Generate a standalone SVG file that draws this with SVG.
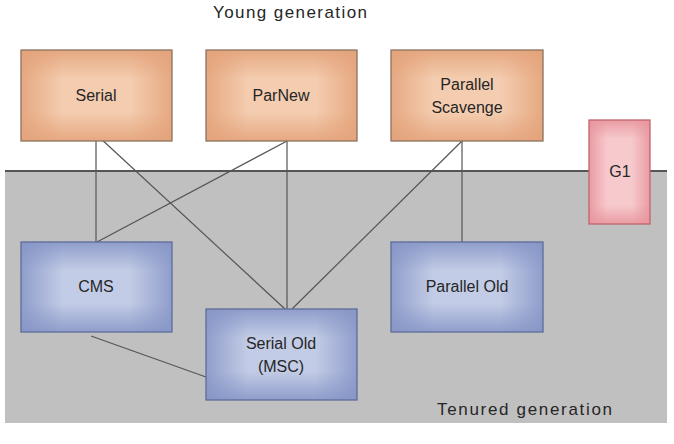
<svg xmlns="http://www.w3.org/2000/svg" width="674" height="444" viewBox="0 0 674 444">
<defs>
<linearGradient id="oh" x1="0" y1="0" x2="1" y2="0"><stop offset="0" stop-color="#e3a279" stop-opacity="0.85"/><stop offset="0.28" stop-color="#e3a279" stop-opacity="0"/><stop offset="0.72" stop-color="#e3a279" stop-opacity="0"/><stop offset="1" stop-color="#e3a279" stop-opacity="0.85"/></linearGradient>
<linearGradient id="ov" x1="0" y1="0" x2="0" y2="1"><stop offset="0" stop-color="#e3a279" stop-opacity="0.85"/><stop offset="0.32" stop-color="#e3a279" stop-opacity="0"/><stop offset="0.68" stop-color="#e3a279" stop-opacity="0"/><stop offset="1" stop-color="#e3a279" stop-opacity="0.85"/></linearGradient>
<linearGradient id="bh" x1="0" y1="0" x2="1" y2="0"><stop offset="0" stop-color="#8695c6" stop-opacity="0.85"/><stop offset="0.28" stop-color="#8695c6" stop-opacity="0"/><stop offset="0.72" stop-color="#8695c6" stop-opacity="0"/><stop offset="1" stop-color="#8695c6" stop-opacity="0.85"/></linearGradient>
<linearGradient id="bv" x1="0" y1="0" x2="0" y2="1"><stop offset="0" stop-color="#8695c6" stop-opacity="0.85"/><stop offset="0.32" stop-color="#8695c6" stop-opacity="0"/><stop offset="0.68" stop-color="#8695c6" stop-opacity="0"/><stop offset="1" stop-color="#8695c6" stop-opacity="0.85"/></linearGradient>
<linearGradient id="ph" x1="0" y1="0" x2="1" y2="0"><stop offset="0" stop-color="#e8949d" stop-opacity="0.85"/><stop offset="0.3" stop-color="#e8949d" stop-opacity="0"/><stop offset="0.7" stop-color="#e8949d" stop-opacity="0"/><stop offset="1" stop-color="#e8949d" stop-opacity="0.85"/></linearGradient>
<linearGradient id="pv" x1="0" y1="0" x2="0" y2="1"><stop offset="0" stop-color="#e8949d" stop-opacity="0.85"/><stop offset="0.18" stop-color="#e8949d" stop-opacity="0"/><stop offset="0.82" stop-color="#e8949d" stop-opacity="0"/><stop offset="1" stop-color="#e8949d" stop-opacity="0.85"/></linearGradient>
</defs>
<style>
text{font-family:"Liberation Sans","DejaVu Sans",sans-serif;fill:#262626;}
.lbl{font-size:16px;text-anchor:middle;}
.title{font-size:17px;}
.o{fill:#f4cdb0;}
.b{fill:#c3cce6;}
.p{fill:#f6c9cc;}
.bo{fill:none;stroke:#8a7260;stroke-width:1.3;}
.bb{fill:none;stroke:#5e6c98;stroke-width:1.3;}
.bp{fill:none;stroke:#c0646e;stroke-width:1.3;}
.c{stroke:#555;stroke-width:1.2;fill:none;}
</style>
<rect width="674" height="444" fill="#ffffff"/>
<rect id="tenured-bg" x="5" y="171" width="662" height="252" fill="#c0c0c0"/>
<line x1="5" y1="171" x2="667" y2="171" stroke="#555" stroke-width="2"/>
<text class="title" x="213" y="18" textLength="154">Young generation</text>
<text class="title" x="437" y="415" textLength="175">Tenured generation</text>
<g id="connectors">
<line class="c" x1="96" y1="141" x2="96" y2="242"/>
<line class="c" x1="99" y1="137" x2="285" y2="309"/>
<line class="c" x1="287" y1="141" x2="97" y2="242"/>
<line class="c" x1="287" y1="141" x2="287" y2="309"/>
<line class="c" x1="462" y1="141" x2="292" y2="309"/>
<line class="c" x1="462" y1="141" x2="462" y2="242"/>
<line class="c" x1="91" y1="336" x2="206" y2="377"/>
</g>
<g id="serial">
<rect class="o" x="21" y="50" width="151" height="91"/><rect x="21" y="50" width="151" height="91" fill="url(#oh)"/><rect x="21" y="50" width="151" height="91" fill="url(#ov)"/><rect class="bo" x="21" y="50" width="151" height="91"/>
<text class="lbl" x="96" y="101">Serial</text>
</g>
<g id="parnew">
<rect class="o" x="206" y="50" width="151" height="91"/><rect x="206" y="50" width="151" height="91" fill="url(#oh)"/><rect x="206" y="50" width="151" height="91" fill="url(#ov)"/><rect class="bo" x="206" y="50" width="151" height="91"/>
<text class="lbl" x="281" y="101">ParNew</text>
</g>
<g id="parallel-scavenge">
<rect class="o" x="391" y="50" width="152" height="91"/><rect x="391" y="50" width="152" height="91" fill="url(#oh)"/><rect x="391" y="50" width="152" height="91" fill="url(#ov)"/><rect class="bo" x="391" y="50" width="152" height="91"/>
<text class="lbl" x="467" y="90">Parallel</text>
<text class="lbl" x="467" y="113">Scavenge</text>
</g>
<g id="g1">
<rect class="p" x="589" y="120" width="61" height="104"/><rect x="589" y="120" width="61" height="104" fill="url(#ph)"/><rect x="589" y="120" width="61" height="104" fill="url(#pv)"/><rect class="bp" x="589" y="120" width="61" height="104"/>
<text class="lbl" x="620" y="177">G1</text>
</g>
<g id="cms">
<rect class="b" x="21" y="242" width="151" height="90"/><rect x="21" y="242" width="151" height="90" fill="url(#bh)"/><rect x="21" y="242" width="151" height="90" fill="url(#bv)"/><rect class="bb" x="21" y="242" width="151" height="90"/>
<text class="lbl" x="96" y="292">CMS</text>
</g>
<g id="serial-old">
<rect class="b" x="206" y="309" width="151" height="91"/><rect x="206" y="309" width="151" height="91" fill="url(#bh)"/><rect x="206" y="309" width="151" height="91" fill="url(#bv)"/><rect class="bb" x="206" y="309" width="151" height="91"/>
<text class="lbl" x="281" y="349">Serial Old</text>
<text class="lbl" x="281" y="372">(MSC)</text>
</g>
<g id="parallel-old">
<rect class="b" x="391" y="242" width="152" height="90"/><rect x="391" y="242" width="152" height="90" fill="url(#bh)"/><rect x="391" y="242" width="152" height="90" fill="url(#bv)"/><rect class="bb" x="391" y="242" width="152" height="90"/>
<text class="lbl" x="467" y="292">Parallel Old</text>
</g>
</svg>
